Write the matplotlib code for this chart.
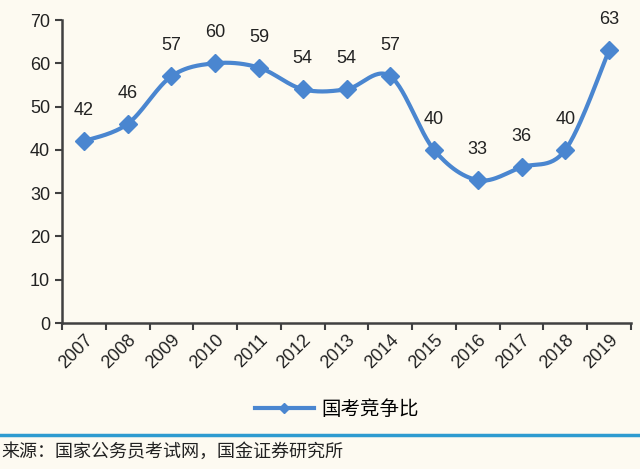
import matplotlib
matplotlib.use("Agg")
import matplotlib.pyplot as plt
import numpy as np
from matplotlib.lines import Line2D

plt.rcParams['font.family'] = ['Liberation Sans', 'Noto Sans CJK SC', 'DejaVu Sans']

# Data
years = ['2007', '2008', '2009', '2010', '2011', '2012', '2013',
         '2014', '2015', '2016', '2017', '2018', '2019']
ratio = [42, 46, 57, 60, 59, 54, 54, 57, 40, 33, 36, 40, 63]
series_name = '国考竞争比'
source_text = '来源：国家公务员考试网，国金证券研究所'
y_ticks = [0, 10, 20, 30, 40, 50, 60, 70]

bg = '#FDFAF1'
line_color = '#4A86D0'
axis_color = '#404040'


def smooth_curve(xs, ys, steps=30):
    # Excel-like smoothing: cubic Bezier with Catmull-Rom control points
    pts = np.column_stack([xs, ys]).astype(float)
    n = len(pts)
    out = []
    for i in range(n - 1):
        p0 = pts[i - 1] if i > 0 else pts[i]
        p1 = pts[i]
        p2 = pts[i + 1]
        p3 = pts[i + 2] if i + 2 < n else pts[i + 1]
        c1 = p1 + (p2 - p0) / 6.0
        c2 = p2 - (p3 - p1) / 6.0
        t = np.linspace(0, 1, steps)[:, None]
        seg = ((1 - t) ** 3) * p1 + 3 * ((1 - t) ** 2) * t * c1 \
            + 3 * (1 - t) * t ** 2 * c2 + t ** 3 * p2
        out.append(seg if i == 0 else seg[1:])
    out = np.vstack(out)
    return out[:, 0], out[:, 1]


fig = plt.figure(figsize=(6.4, 4.69), dpi=100, facecolor=bg)
ax = fig.add_axes([62 / 640, 1 - 323 / 469, (631 - 62) / 640, (323 - 20) / 469])
ax.set_facecolor(bg)

x = np.arange(len(years))
sx, sy = smooth_curve(x, ratio)
ax.plot(sx, sy, color=line_color, linewidth=3, solid_capstyle='round', zorder=2)
ax.plot(x, ratio, linestyle='none', marker='D', markersize=9.5,
        color=line_color, zorder=3)

for xi, v in zip(x, ratio):
    ax.annotate(f'{v}', (xi, v), xytext=(0, 22), textcoords='offset points',
                ha='center', va='center', fontsize=13, color='#222222')

ax.set_xlim(-0.5, len(years) - 0.5)
ax.set_ylim(0, 70)
ax.set_yticks(y_ticks)
ax.set_yticklabels([str(t) for t in y_ticks], fontsize=13, color='#222222')

ax.set_xticks(np.arange(len(years) + 1) - 0.5)
ax.set_xticklabels([])
ax.set_xticks(x, minor=True)
ax.set_xticklabels(years, minor=True, rotation=45, ha='right',
                   rotation_mode='anchor', fontsize=13, color='#222222')
ax.tick_params(axis='x', which='minor', length=0, pad=6)
ax.tick_params(axis='both', which='major', length=5, width=1.5,
               color=axis_color, direction='out')

for side in ['top', 'right']:
    ax.spines[side].set_visible(False)
for side in ['left', 'bottom']:
    ax.spines[side].set_color(axis_color)
    ax.spines[side].set_linewidth(1.8)

# Legend
handle = Line2D([], [], color=line_color, linewidth=3, marker='D', markersize=5)
fig.legend(handles=[handle], labels=[series_name], loc='center',
           bbox_to_anchor=(337 / 640, 1 - 409 / 469), frameon=False,
           prop={'family': ['Noto Sans CJK SC'], 'size': 14},
           handlelength=3.0, handletextpad=0.4)

# Separator and source
fig.add_artist(Line2D([0, 1], [1 - 435 / 469, 1 - 435 / 469],
                      color='#2E9BD0', linewidth=2.5))
fig.text(0.003, 1 - 452 / 469, source_text, ha='left', va='center',
         fontsize=13, color='#222222', family=['Noto Sans CJK SC'])

fig.savefig('out.png', dpi=100, facecolor=bg)
